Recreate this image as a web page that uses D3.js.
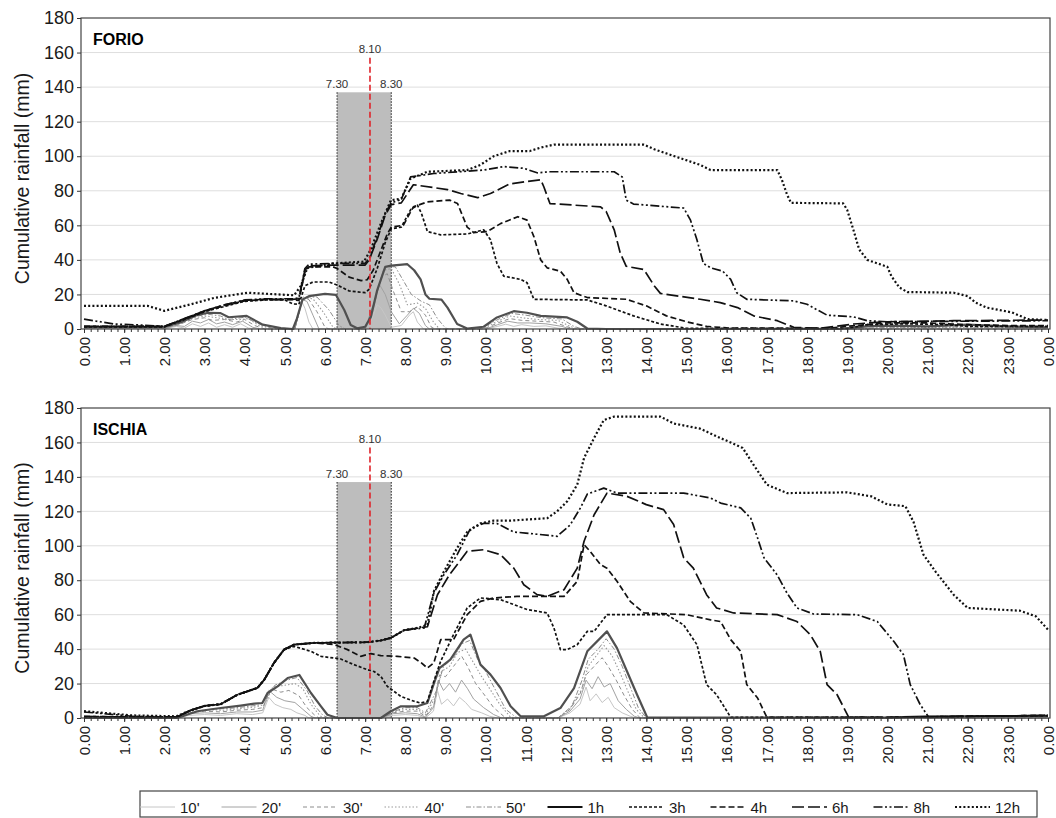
<!DOCTYPE html>
<html lang="en">
<head>
<meta charset="UTF-8">
<title>Cumulative rainfall - Forio / Ischia</title>
<script src="https://cdn.jsdelivr.net/npm/d3@7"></script>
<style>
  body { margin: 0; background: #fff; }
  svg { display: block; font-family: "Liberation Sans", Arial, sans-serif; }
  .axis path, .axis line { stroke: #333; }
  .axis text { fill: #1a1a1a; }
  .grid line { stroke: #dedede; }
</style>
</head>
<body>
<script>
/* ---------- data (time in hours on the axis, rainfall in mm) ---------- */
const seriesNames = ["10'", "20'", "30'", "40'", "50'", "1h", "3h", "4h", "6h", "8h", "12h"];
const xTickLabels = ["0.00","1.00","2.00","3.00","4.00","5.00","6.00","7.00","8.00","9.00","10.00","11.00",
                     "12.00","13.00","14.00","15.00","16.00","17.00","18.00","19.00","20.00","21.00","22.00","23.00","0.00"];
const yTicks = [0, 20, 40, 60, 80, 100, 120, 140, 160, 180];

// shaded window and event line
const windowSpan = [6.3, 7.65];
const windowLabels = ["7.30", "8.30"];
const windowTop = 137;
const eventTime = 7.12;
const eventLabel = "8.10";
const eventTop = 157;

/* FORIO */
const forio10m = [[0,0.2],[2.0,0.2],[2.3,1.5],[2.5,0.5],[2.7,3],[2.9,1.5],[3.1,3.5],[3.3,1],[3.5,2.5],[3.7,1],[3.9,3],[4.1,0.5],[4.3,0],
  [5.25,0],[5.42,16],[5.5,12],[5.6,4],[5.7,0],[7.0,0],[7.15,5],[7.3,14],[7.4,12],[7.5,8],[7.65,1],[7.9,2],[8.1,8],[8.2,10],[8.3,4],[8.45,0],
  [10.0,0],[10.3,1.5],[10.5,2.8],[10.7,1.5],[10.9,2.5],[11.2,1.5],[11.5,1.8],[11.8,0.5],[12.0,0],[24,0]];
const forio20m = [[0,0.4],[2.0,0.4],[2.3,2],[2.5,1.5],[2.7,4.5],[2.9,3.5],[3.1,5.5],[3.3,3],[3.5,4],[3.7,2.5],[3.95,4.5],[4.2,1],[4.4,0],
  [5.25,0],[5.43,17],[5.55,16],[5.7,8],[5.85,0],[7.0,0],[7.15,6],[7.35,26],[7.5,20],[7.65,10],[7.85,3],[8.05,8],[8.2,12],[8.35,9],[8.5,2],[8.6,0],
  [10.0,0],[10.3,2.5],[10.55,4.5],[10.8,3.5],[11.1,3.5],[11.5,3],[11.9,1.5],[12.1,0],[24,0]];
const forio30m = [[0,0.6],[2.0,0.6],[2.35,2.5],[2.7,5.5],[3.0,6.5],[3.2,5],[3.5,5.5],[3.8,4],[4.0,5.5],[4.25,2],[4.5,0],
  [5.25,0],[5.44,17.5],[5.6,17],[5.8,10],[6.0,1],[6.1,0],[7.0,0],[7.2,12],[7.4,30],[7.55,32],[7.7,22],[7.9,10],[8.1,10],[8.3,13],[8.5,8],[8.65,1],[8.75,0],
  [9.95,0],[10.3,3.5],[10.6,6],[10.9,5],[11.3,4.5],[11.7,4],[12.0,1.5],[12.2,0],[24,0]];
const forio40m = [[0,0.8],[2.0,0.8],[2.4,3],[2.75,6.5],[3.05,7.5],[3.3,6.5],[3.6,5.5],[3.9,5.5],[4.1,6],[4.35,2],[4.6,0],
  [5.25,0],[5.45,18],[5.7,17.5],[5.95,10],[6.2,1],[6.3,0],[7.0,0],[7.2,13],[7.45,34],[7.65,35],[7.85,26],[8.05,14],[8.3,15],[8.5,12],[8.7,4],[8.85,0],
  [9.9,0],[10.3,4.5],[10.6,7.5],[10.9,6.5],[11.3,5.5],[11.8,5],[12.1,1.5],[12.3,0],[19.3,0],[20,0.8],[22,1],[24,0.5]];
const forio50m = [[0,1],[2.0,1],[2.4,3.5],[2.8,7.5],[3.1,8.5],[3.4,7.5],[3.6,5.5],[4.0,6.8],[4.4,2.5],[4.7,0.3],[4.9,0],
  [5.25,0],[5.45,18.5],[5.8,18.5],[6.1,11],[6.35,2],[6.5,0],[7.0,0],[7.2,14],[7.5,36],[7.75,36],[7.95,28],[8.15,20],[8.4,16],[8.6,14],[8.8,6],[9.0,0.5],[9.1,0],
  [9.85,0],[10.3,5.5],[10.65,9],[11.0,8],[11.4,6.5],[11.9,5.8],[12.2,1.5],[12.4,0],[19.2,0],[20,1],[22,1.2],[24,0.8]];
const forio1h = [[0,1.2],[2.0,1.2],[2.4,3.8],[2.8,8],[3.1,9.4],[3.4,9.2],[3.6,6.8],[4.05,7.6],[4.45,2.5],[4.9,0.5],[5.2,0],[5.3,6],[5.44,17],[5.6,19],
  [6.0,20.3],[6.27,19.8],[6.48,11],[6.64,2.3],[6.8,0.4],[7.0,1.3],[7.14,7],[7.3,22.5],[7.5,36],[7.65,36.7],[8.05,37.5],[8.22,34],[8.38,28.7],[8.5,20],
  [8.6,17.5],[8.9,17],[9.05,12.4],[9.29,2.9],[9.54,0.3],[9.95,1.3],[10.28,6.7],[10.7,10.3],[11.03,9.4],[11.37,7.6],[12.03,6.7],[12.28,4.2],[12.53,0.3],
  [13,0],[18.8,0],[19.5,1.5],[20,2],[21,1.5],[22,2.5],[23,1.5],[24,1]];
const forio3h = [[0,1.2],[2.0,1.2],[2.5,5.5],[3.0,10],[3.5,13],[4.0,16],[4.5,16.8],[5.0,16.8],[5.2,14.5],[5.35,14.3],[5.5,25],[5.7,27.2],[6.1,27.2],
  [6.3,25.5],[6.6,22],[7.0,21],[7.1,23],[7.3,35],[7.5,50],[7.65,58],[7.9,59],[8.13,69],[8.3,71.7],[8.4,67],[8.55,56.4],[8.88,54.5],[9.54,55],[9.95,57.4],
  [10.12,51.6],[10.28,38],[10.45,30.6],[10.87,28.7],[11.03,26.8],[11.2,17.2],[12.53,16.8],[13.0,13.4],[13.68,7.6],[14.35,2.9],[15.0,0.4],[19.0,0.3],
  [19.5,2.5],[20.5,3],[21.5,2.5],[22.0,1.5],[24,1.5]];
const forio4h = [[0,1.5],[2.0,1.5],[2.5,5.8],[3.0,10.2],[3.5,13.5],[4.0,16.3],[4.5,17],[5.2,17],[5.35,16.5],[5.5,33],[5.6,36],[6.2,36],[6.3,35],[6.6,30],
  [6.9,28],[7.05,28.5],[7.2,34],[7.4,46],[7.55,55],[7.65,59],[7.95,60],[8.2,70.7],[8.55,73.6],[9.1,74.6],[9.3,72.6],[9.54,59],[9.7,55.8],[10.04,56.4],
  [10.37,61],[10.8,65],[11.03,63],[11.2,53.5],[11.37,40],[11.53,35.4],[11.86,33.5],[12.03,28.7],[12.2,21],[12.53,18.2],[13.5,17.2],[14.0,13.4],[14.5,7.6],
  [15.0,4.2],[15.5,1.5],[16.0,0.6],[18.5,0.3],[19.2,2],[20.0,3.5],[21,3.5],[22,2.5],[23,2],[24,2]];
const forio6h = [[0,1.5],[2.0,1.5],[2.5,6],[3.0,10.5],[3.5,14],[4.0,16.6],[4.5,17.2],[5.2,17.2],[5.35,17.5],[5.5,34],[5.6,36.5],[6.2,37],[7.0,37],
  [7.1,40],[7.3,52],[7.5,66],[7.65,72],[7.9,73],[8.1,80],[8.2,83.5],[9.05,80.7],[9.38,78.4],[9.8,76],[10.12,78.4],[10.6,84],[11.37,86.4],[11.45,82.2],
  [11.6,72.6],[12.86,70.7],[13.0,68],[13.2,57.4],[13.35,44],[13.5,36.3],[13.94,34.4],[14.2,24.9],[14.35,20.6],[15.34,17.2],[15.84,15.3],[16.27,12.4],
  [16.67,7.6],[17.26,4.8],[17.67,1],[18.33,0.4],[19.16,2.9],[20,4.2],[21.65,4.8],[24,5.2]];
const forio8h = [[0,5.7],[0.75,2.9],[1.4,2.3],[2.0,1.5],[2.5,6],[3.0,10.5],[3.5,14],[4.0,16.8],[4.5,17.5],[5.2,17.5],[5.35,18],[5.5,35],[5.6,37.5],
  [6.2,38],[7.0,38],[7.1,41],[7.3,53],[7.5,67],[7.65,73],[7.9,75],[8.13,88],[8.71,90],[9.95,92],[10.45,94],[10.95,93],[11.28,90.4],[11.6,91],[13.2,91],
  [13.4,88],[13.5,74.6],[13.68,72.3],[14.93,70],[15.1,63],[15.26,51.6],[15.42,38],[15.6,35.4],[15.9,33.5],[16.1,28.7],[16.25,21],[16.5,17.2],[17.67,16.3],
  [18.0,14.3],[18.5,8],[19.16,7],[19.5,4.8],[20,4.2],[24,4.8]];
const forio12h = [[0,13.4],[1.58,13.4],[2.0,10.5],[2.66,14.3],[3.24,18],[4.07,21],[5.23,19.5],[5.4,25],[5.56,35.4],[6.23,38],[6.97,39],[7.14,46],
  [7.39,61],[7.64,74.5],[7.9,75.5],[8.13,87],[8.55,91],[9.54,92],[9.87,95],[10.2,100],[10.6,103],[11.1,103],[11.37,105],[11.7,106.7],[13.94,106.7],
  [14.2,104],[14.7,100],[15.34,95],[15.6,92],[17.26,92],[17.38,86],[17.5,78],[17.6,73],[18.9,72.7],[19.0,69],[19.16,57],[19.3,46],[19.5,40],[20.0,36],
  [20.1,30.6],[20.3,24],[20.5,21.4],[21.65,21],[22.0,19],[22.2,15.3],[22.47,12.4],[23.1,9.6],[23.5,5.7],[24,5.2]];

/* ISCHIA */
const ischia10m = [[0,0],[2.3,0],[2.6,1.5],[3.0,2],[3.4,1.5],[3.8,2.5],[4.2,2],[4.45,3],[4.6,12],[4.75,8],[4.95,6],[5.15,5],[5.3,3],[5.5,1.5],[5.6,0],
  [7.4,0],[7.7,1.5],[8.0,2],[8.3,1.5],[8.5,0],[8.7,4],[8.8,16],[8.9,8],[9.05,11],[9.2,7],[9.35,12],[9.5,9],[9.65,5],[9.9,3],[10.1,1],[10.3,0],
  [11.8,0],[12.1,3],[12.35,8],[12.5,18],[12.6,10],[12.75,14],[12.9,9],[13.05,12],[13.2,6],[13.4,3],[13.6,1],[13.75,0],[24,0]];
const ischia20m = [[0,0],[2.3,0],[2.6,2.5],[3.0,3],[3.4,2.5],[3.8,3.5],[4.2,3.5],[4.45,4.5],[4.6,16],[4.8,12],[5.0,10],[5.25,9],[5.45,5],[5.65,1],[5.75,0],
  [7.4,0],[7.7,2.5],[8.0,3],[8.3,2.5],[8.5,0.5],[8.7,6],[8.82,22],[8.95,16],[9.1,20],[9.25,15],[9.4,22],[9.55,17],[9.7,11],[9.95,6],[10.2,2],[10.4,0],
  [11.8,0],[12.1,4],[12.35,11],[12.5,22],[12.65,17],[12.8,24],[12.95,18],[13.1,20],[13.3,10],[13.5,5],[13.7,1],[13.85,0],[24,0]];
const ischia30m = [[0,0],[2.3,0],[2.65,3],[3.0,4],[3.4,3.5],[3.8,4.5],[4.2,5],[4.45,6],[4.65,17],[4.9,15],[5.1,16],[5.35,13],[5.55,6],[5.75,1.5],[5.85,0],
  [7.4,0],[7.7,3],[8.0,4],[8.3,4],[8.5,1],[8.72,8],[8.85,25],[9.0,24],[9.2,30],[9.4,36],[9.55,30],[9.75,20],[9.95,14],[10.2,6],[10.45,1],[10.55,0],
  [11.8,0],[12.1,5],[12.35,14],[12.5,25],[12.7,30],[12.9,35],[13.05,30],[13.25,22],[13.45,13],[13.65,5],[13.85,0],[24,0]];
const ischia40m = [[0,0],[2.3,0],[2.7,3.5],[3.1,4.8],[3.5,4.5],[3.9,5.5],[4.3,6.5],[4.5,8],[4.7,18],[5.0,19],[5.25,20],[5.45,17],[5.65,8],[5.85,2],[5.95,0],
  [7.4,0],[7.7,3.5],[8.0,5],[8.3,5],[8.5,2],[8.75,12],[8.9,27],[9.1,30],[9.3,38],[9.5,40],[9.7,32],[9.9,24],[10.1,17],[10.35,8],[10.6,1],[10.7,0],
  [11.8,0],[12.1,5.5],[12.4,17],[12.55,30],[12.75,36],[12.95,42],[13.15,36],[13.35,26],[13.55,15],[13.75,5],[13.95,0],[24,0]];
const ischia50m = [[0,0],[2.3,0],[2.75,3.8],[3.2,5.2],[3.6,5.5],[4.0,6.5],[4.35,7.5],[4.5,10],[4.75,19],[5.05,22],[5.3,23.5],[5.55,16],[5.75,7],[5.95,1.5],[6.1,0],
  [7.4,0],[7.7,3.8],[8.0,6],[8.3,6],[8.5,3],[8.78,16],[8.95,30],[9.2,35],[9.4,43],[9.6,45],[9.8,34],[10.0,27],[10.25,16],[10.5,5],[10.75,0.5],[10.85,0],
  [11.8,0],[12.15,7],[12.4,22],[12.55,34],[12.8,40],[13.0,46],[13.2,40],[13.4,30],[13.6,18],[13.8,6],[14.0,0],[24,0]];
const ischia1h = [[0,0],[2.3,0],[2.45,1],[2.82,3.9],[3.4,5.8],[3.9,7.2],[4.24,8.3],[4.44,8.7],[4.57,14.5],[4.82,18.4],[5.07,23.2],[5.36,25],[5.65,14.5],
  [5.9,6.8],[6.06,1.9],[6.31,0],[7.39,0],[7.64,3.9],[7.89,6.8],[8.3,6.8],[8.55,8.7],[8.71,20],[8.85,29],[9.12,33.9],[9.45,45.5],[9.62,48.4],[9.87,31],
  [10.12,25.2],[10.37,17.4],[10.62,6.8],[10.87,1],[11.45,1],[11.86,5.8],[12.2,17.4],[12.53,38.7],[13.02,50.3],[13.27,40.6],[13.52,27],[13.77,13.5],
  [14.02,0.4],[20,0.2],[21,1],[24,1.2]];
const ischia3h = [[0,0.5],[2.3,0.3],[2.66,4.5],[3.0,7],[3.4,8],[3.82,13.5],[4.32,17.5],[4.49,22.3],[4.73,32],[4.98,39.7],[5.23,41.6],[5.65,38.7],
  [5.9,35.8],[6.39,34.3],[6.72,31],[7.06,28],[7.22,27],[7.39,24.2],[7.55,18.4],[7.89,12.5],[8.22,9.7],[8.38,8.7],[8.55,9.7],[8.71,21.3],[8.88,33],
  [9.2,48.4],[9.54,63.9],[9.87,69.7],[10.37,68.7],[11.03,63],[11.53,61],[11.7,52.3],[11.86,39.7],[12.03,39.7],[12.28,42.6],[12.53,50.3],[12.7,50.3],
  [13.02,60],[14.51,60],[14.93,54],[15.26,42.6],[15.5,19.4],[15.75,13.5],[16.1,0.4],[20,0.3],[22,1],[24,1.2]];
const ischia4h = [[0,0.8],[2.3,0.5],[2.66,4.5],[3.0,7],[3.4,8],[3.82,13.5],[4.32,17.5],[4.49,22.3],[4.73,32],[4.98,39.7],[5.23,42.6],[5.73,43.6],
  [6.23,42.6],[6.56,39.7],[6.89,35.8],[7.14,37.4],[7.39,36.2],[7.8,35.8],[8.22,34.8],[8.4,32],[8.55,29],[8.71,32],[8.88,45.5],[9.2,45.5],[9.54,60],
  [9.87,67.7],[10.2,69.7],[10.78,70.6],[11.95,70.6],[12.28,79.4],[12.45,100.6],[12.6,96.8],[12.86,89],[13.02,87],[13.27,79.4],[13.6,67.7],[13.94,61],
  [15.0,60],[15.6,57],[15.85,56],[16.1,45.5],[16.35,38.7],[16.5,19.4],[16.77,11.6],[17.0,0.4],[20,0.3],[22,1],[24,1.5]];
const ischia6h = [[0,1],[1.2,0.5],[2.3,0.5],[2.66,4.5],[3.0,7],[3.4,8],[3.82,13.5],[4.32,17.5],[4.49,22.3],[4.73,32],[4.98,39.7],[5.23,42.6],
  [5.73,43.6],[7.06,44],[7.39,45],[7.64,46.5],[7.97,51],[8.55,53],[8.8,71.6],[9.1,83.2],[9.54,96.8],[9.95,97.7],[10.37,94.8],[10.7,87],[10.95,77.4],
  [11.28,71.6],[11.53,70.6],[11.95,74.5],[12.28,87],[12.45,102.6],[12.7,118],[13.02,130.6],[13.52,128.7],[14.0,123.9],[14.43,121],[14.68,112.3],
  [14.93,93],[15.17,87],[15.5,71.6],[15.75,63.9],[16.17,61],[17.26,60],[17.75,56],[18.08,48.4],[18.33,38.7],[18.5,19.4],[18.75,13.5],[19.04,0.4],
  [21,0.5],[22,1],[24,1.5]];
const ischia8h = [[0,3.5],[0.5,2.5],[1.2,1],[2.3,0.5],[2.66,4.5],[3.0,7],[3.4,8],[3.82,13.5],[4.32,17.5],[4.49,22.3],[4.73,32],[4.98,39.7],[5.23,42.6],
  [5.73,43.6],[7.06,44],[7.39,45],[7.64,46.5],[7.97,51],[8.47,52.3],[8.71,72.6],[8.96,83.2],[9.29,94.8],[9.62,110],[9.95,113],[10.28,113],[10.7,108],
  [11.0,107.4],[11.78,105.5],[12.1,112],[12.36,122],[12.53,130],[12.94,133.5],[13.27,130.6],[14.93,130.6],[15.6,127.7],[15.85,124.8],[16.35,122],
  [16.6,116],[16.77,104.5],[16.93,93],[17.26,83],[17.5,72.6],[17.75,63.9],[18.16,60.4],[19.25,60],[19.75,56],[20.16,44.5],[20.4,36.8],[20.57,19.4],
  [20.82,7.7],[21.03,0.4],[22,0.8],[23,1.2],[24,1.5]];
const ischia12h = [[0,4],[1.2,1.5],[2.3,1],[2.66,4.5],[3.0,7],[3.4,8],[3.82,13.5],[4.32,17.5],[4.49,22.3],[4.73,32],[4.98,39.7],[5.23,42.6],[5.73,43.6],
  [7.06,44],[7.39,45],[7.64,46.5],[7.97,51],[8.3,52.3],[8.55,54],[8.71,73.5],[8.96,85],[9.29,98.7],[9.54,108],[9.87,113],[10.2,114.6],[10.6,114.6],
  [11.53,116],[11.78,120],[12.03,125.8],[12.28,135.5],[12.45,151],[12.7,162.6],[12.94,173],[13.2,175],[14.35,175],[14.68,171],[15.34,168],[15.84,162.6],
  [16.1,160],[16.4,156.8],[16.67,147],[17.0,135.5],[17.5,130.6],[19.0,131],[19.6,128.7],[20.0,124],[20.45,123],[20.65,114],[20.9,94.8],[21.2,85],
  [21.65,71.6],[22.0,63.9],[23.3,62.3],[23.7,59],[24,51.3]];

const forioSeries = [forio10m, forio20m, forio30m, forio40m, forio50m, forio1h, forio3h, forio4h, forio6h, forio8h, forio12h];
const ischiaSeries = [ischia10m, ischia20m, ischia30m, ischia40m, ischia50m, ischia1h, ischia3h, ischia4h, ischia6h, ischia8h, ischia12h];

/* ---------- styles ---------- */
const styles = {
  "10'": { color: "#c6c6c6", width: 1,   dash: null },
  "20'": { color: "#a2a2a2", width: 1,   dash: null },
  "30'": { color: "#8c8c8c", width: 1,   dash: "4,3" },
  "40'": { color: "#999",    width: 1.1, dash: "1.5,2" },
  "50'": { color: "#8c8c8c", width: 1,   dash: "5,2,1.5,2" },
  "1h":  { color: "#505050", width: 2.2, dash: null },
  "3h":  { color: "#111",    width: 1.7, dash: "3,2" },
  "4h":  { color: "#111",    width: 1.7, dash: "6,3" },
  "6h":  { color: "#111",    width: 1.7, dash: "12,4" },
  "8h":  { color: "#111",    width: 1.7, dash: "9,2.5,2,2.5,2,2.5" },
  "12h": { color: "#111",    width: 2.2, dash: "2,2.2" }
};

const svg = d3.select("body").append("svg")
  .attr("width", 1056)
  .attr("height", 818);

const x = d3.scaleLinear().domain([0, 24]).range([84, 1048]);
const frameLeft = 81, frameRight = 1050;

const panels = [
  { name: "FORIO",  series: forioSeries,  top: 18,  bottom: 329 },
  { name: "ISCHIA", series: ischiaSeries, top: 408, bottom: 718 }
];

panels.forEach(p => drawPanel(p));

function drawPanel(p) {
  const y = d3.scaleLinear().domain([0, 180]).range([p.bottom, p.top]);
  const g = svg.append("g");

  // grid lines
  g.append("g").attr("class", "grid")
    .selectAll("line")
    .data(yTicks.slice(1, -1))
    .join("line")
    .attr("x1", frameLeft).attr("x2", frameRight)
    .attr("y1", d => y(d)).attr("y2", d => y(d));

  // shaded window 7.30 - 8.30
  g.append("rect")
    .attr("x", x(windowSpan[0]))
    .attr("y", y(windowTop))
    .attr("width", x(windowSpan[1]) - x(windowSpan[0]))
    .attr("height", y(0) - y(windowTop))
    .attr("fill", "#bdbdbd");
  g.selectAll(".wedge")
    .data(windowSpan)
    .join("line")
    .attr("class", "wedge")
    .attr("x1", d => x(d)).attr("x2", d => x(d))
    .attr("y1", y(windowTop)).attr("y2", y(0))
    .attr("stroke", "#222").attr("stroke-width", 1)
    .attr("stroke-dasharray", "1.5,1.5");
  g.selectAll(".wlabel")
    .data(windowSpan)
    .join("text")
    .attr("class", "wlabel")
    .attr("x", d => x(d))
    .attr("y", y(windowTop) - 4)
    .attr("text-anchor", "middle")
    .style("font-size", "11.5px")
    .attr("fill", "#333")
    .text((d, i) => windowLabels[i]);

  // series
  const line = d3.line().x(d => x(d[0])).y(d => y(d[1]));
  g.append("g")
    .selectAll("path")
    .data(p.series)
    .join("path")
    .attr("d", line)
    .attr("fill", "none")
    .attr("stroke", (d, i) => styles[seriesNames[i]].color)
    .attr("stroke-width", (d, i) => styles[seriesNames[i]].width)
    .attr("stroke-dasharray", (d, i) => styles[seriesNames[i]].dash)
    .attr("stroke-linejoin", "round");

  // event line 8.10
  g.append("line")
    .attr("x1", x(eventTime)).attr("x2", x(eventTime))
    .attr("y1", y(eventTop)).attr("y2", y(0))
    .attr("stroke", "#e0242a").attr("stroke-width", 1.6)
    .attr("stroke-dasharray", "6,3");
  g.append("text")
    .attr("x", x(eventTime))
    .attr("y", y(eventTop) - 5)
    .attr("text-anchor", "middle")
    .style("font-size", "11.5px")
    .attr("fill", "#333")
    .text(eventLabel);

  // frame
  g.append("rect")
    .attr("x", frameLeft).attr("y", p.top)
    .attr("width", frameRight - frameLeft).attr("height", p.bottom - p.top)
    .attr("fill", "none").attr("stroke", "#444").attr("stroke-width", 1.2);

  // y axis
  const yAxis = d3.axisLeft(y).tickValues(yTicks).tickSize(4).tickPadding(3);
  g.append("g").attr("class", "axis")
    .attr("transform", `translate(${frameLeft},0)`)
    .call(yAxis)
    .call(s => s.select(".domain").remove())
    .selectAll("text").style("font-size", "18px");

  // x axis: minor ticks every 10 min, labelled hours
  g.append("g").attr("class", "axis")
    .attr("transform", `translate(0,${p.bottom})`)
    .call(d3.axisBottom(x).tickValues(d3.range(0, 145).map(i => i / 6)).tickSize(3).tickFormat(""))
    .call(s => s.select(".domain").remove());
  g.append("g").attr("class", "axis")
    .attr("transform", `translate(0,${p.bottom})`)
    .call(d3.axisBottom(x).tickValues(d3.range(0, 25)).tickSize(4).tickFormat((d, i) => xTickLabels[i]))
    .call(s => s.select(".domain").remove())
    .selectAll("text")
    .style("font-size", "15px")
    .attr("transform", "rotate(-90)")
    .attr("text-anchor", "end")
    .attr("x", -8).attr("y", 0).attr("dy", "0.35em");

  // panel name and axis title
  g.append("text")
    .attr("x", frameLeft + 12).attr("y", p.top + 27)
    .style("font-size", "16px").style("font-weight", "bold")
    .text(p.name);
  g.append("text")
    .attr("transform", `translate(29,${(p.top + p.bottom) / 2 + 5}) rotate(-90)`)
    .attr("text-anchor", "middle")
    .style("font-size", "19.5px")
    .attr("fill", "#1a1a1a")
    .text("Cumulative rainfall (mm)");
}

/* ---------- legend ---------- */
const legend = svg.append("g").attr("transform", "translate(140,791)");
legend.append("rect")
  .attr("width", 897).attr("height", 26)
  .attr("fill", "#fff").attr("stroke", "#444").attr("stroke-width", 1.2);
const item = legend.selectAll(".item")
  .data(seriesNames)
  .join("g")
  .attr("class", "item")
  .attr("transform", (d, i) => `translate(${40 + i * 81.5},0)`);
item.append("line")
  .attr("x1", -40).attr("x2", -5)
  .attr("y1", 16).attr("y2", 16)
  .attr("stroke", d => d === "1h" ? "#111" : styles[d].color)
  .attr("stroke-width", d => styles[d].width)
  .attr("stroke-dasharray", d => styles[d].dash);
item.append("text")
  .attr("x", 0).attr("y", 22)
  .style("font-family", "'Liberation Sans Narrow', 'Arial Narrow', 'Liberation Sans', sans-serif")
  .style("font-stretch", "condensed")
  .style("font-size", "15px")
  .attr("fill", "#1a1a1a")
  .text(d => d);
</script>
</body>
</html>
